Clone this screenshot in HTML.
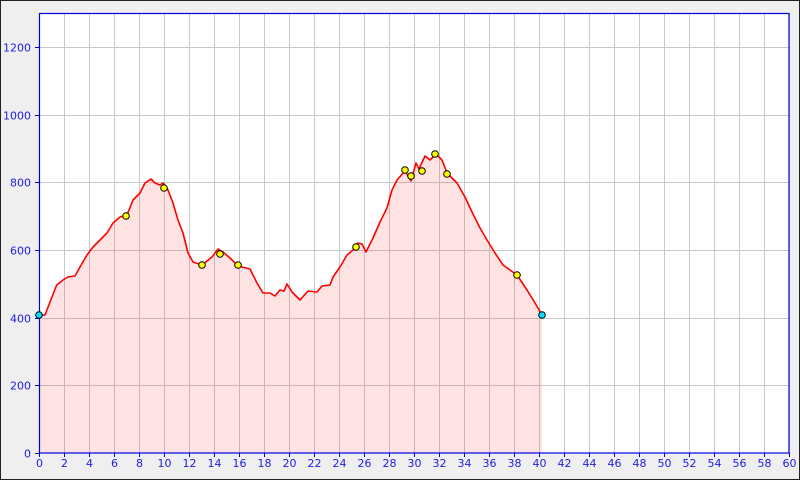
<!DOCTYPE html>
<html><head><meta charset="utf-8"><style>
html,body{margin:0;padding:0;background:#efefef;}
svg{display:block;}
text{font-family:"DejaVu Sans","Liberation Sans",sans-serif;font-size:11px;fill:#2020e0;}
</style></head><body>
<svg width="800" height="480" viewBox="0 0 800 480" xmlns="http://www.w3.org/2000/svg">
<rect x="0.5" y="0.5" width="799" height="479" fill="#efefef" stroke="#222" stroke-width="1"/>
<rect x="39" y="13" width="750" height="440" fill="#fff"/>
<g stroke="#c8c8c8" stroke-width="1" id="grid"></g>
<path id="fill" fill="rgba(255,40,40,0.13)" stroke="none"/>
<path id="line" fill="none" stroke="#ff0000" stroke-width="1.6" stroke-linejoin="round"/>
<rect x="39.5" y="13.5" width="749.5" height="439.5" fill="none" stroke="#0000e0" stroke-width="1.2"/>
<g id="ticks" stroke="#0000e0" stroke-width="1"></g>
<g id="labels"></g>
<g id="markers" stroke="#000" stroke-width="1"></g>
</svg>
<script>
var ns="http://www.w3.org/2000/svg";
function el(t,a,p){var e=document.createElementNS(ns,t);for(var k in a)e.setAttribute(k,a[k]);document.getElementById(p).appendChild(e);return e;}
function X(v){return 39+v*12.5;}
function Y(v){return 453-v*0.33846;}
for(var i=2;i<=60;i+=2){var x=Math.round(X(i))+0.5;el('line',{x1:x,y1:13,x2:x,y2:453},'grid');}
for(var j=200;j<=1200;j+=200){var y=Math.round(Y(j))+0.5;el('line',{x1:39,y1:y,x2:789,y2:y},'grid');}
for(var i=0;i<=60;i+=2){var x=Math.round(X(i))+0.5;el('line',{x1:x,y1:453,x2:x,y2:457},'ticks');
var t=el('text',{x:x,y:467,'text-anchor':'middle'},'labels');t.textContent=i;}
for(var j=0;j<=1200;j+=200){var y=Math.round(Y(j))+0.5;el('line',{x1:35,y1:y,x2:39,y2:y},'ticks');
var t=el('text',{x:31,y:y+4,'text-anchor':'end'},'labels');t.textContent=j;}
var P=[[39,315],[45,315],[50,302],[56.7,285],[63,280],[68,277],[75,276],[80,267],[87,255],[93,247],[100,240],[107,233],[113,223],[120,217],[127,215],[133,200],[140,193],[145,183],[151,179],[155,183],[160,185],[163,183],[168,190],[173,203],[178,220],[183,233],[188,253],[193,262],[202,265],[212,257],[218,249],[223,252],[230,258],[238,266],[250,269],[257,283],[263,293],[270,293],[275,296],[280,290],[284,291],[287,284],[292,292],[300,300],[308,291],[317,292],[322,286],[330,285],[333,277],[340,267],[347,255],[353,250],[358,243],[362,244],[366,252],[373,238],[380,222],[387,208],[392,190],[397,180],[405,171],[411,181],[416,163],[419,169],[425,156],[430,160],[436,154],[442,160],[447,173],[457,183],[465,197],[472,212],[480,228],[487,240],[495,253],[503,265],[517,275],[527,290],[535,303],[542,315]];
var d=P.map(function(p,i){return (i?'L':'M')+p[0]+' '+p[1];}).join(' ');
document.getElementById('line').setAttribute('d',d);
document.getElementById('fill').setAttribute('d',d+' L542 453 L39 453 Z');
var M=[[126,216],[164,188],[202,265],[220,254],[238,265],[356,247],[405,170],[411,176],[422,171],[435,154],[447,174],[517,275]];
M.forEach(function(m){el('circle',{cx:m[0],cy:m[1],r:3.3,fill:'#ffff00'},'markers');});
el('circle',{cx:39,cy:315,r:3.3,fill:'#00e0ff'},'markers');
el('circle',{cx:542,cy:315,r:3.3,fill:'#00e0ff'},'markers');
</script>
</body></html>
